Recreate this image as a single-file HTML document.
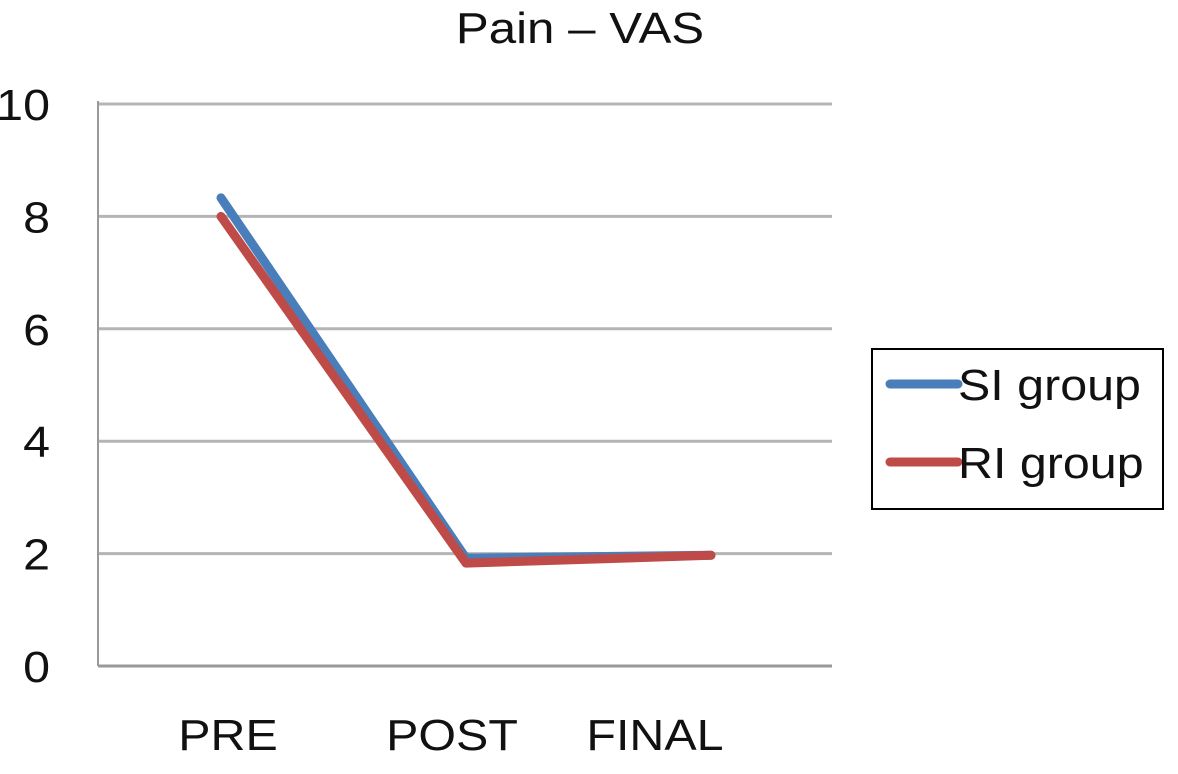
<!DOCTYPE html>
<html><head><meta charset="utf-8"><style>
html,body{margin:0;padding:0;background:#fff;}
svg{display:block;font-family:"Liberation Sans",Arial,sans-serif;}
</style></head><body>
<svg width="1178" height="774" id="chart">
<text transform="translate(580,43) scale(1.12,1)" font-size="44" text-anchor="middle" fill="#111">Pain – VAS</text>
<g id="grid"></g>
<line x1="98" y1="101" x2="98" y2="666" stroke="#999" stroke-width="2"/>
<g id="yticks"></g>
<g id="xticks"></g>
<g id="series"></g>
<g>
<rect x="872" y="349" width="291" height="160" fill="#fff" stroke="#000" stroke-width="2"/>
<line x1="890" y1="384" x2="958" y2="384" stroke="#4a7ebb" stroke-width="9" stroke-linecap="round"/>
<text transform="translate(958,400) scale(1.1,1)" font-size="44" fill="#111">SI group</text>
<line x1="890" y1="462" x2="958" y2="462" stroke="#be4b48" stroke-width="9" stroke-linecap="round"/>
<text transform="translate(958,478) scale(1.1,1)" font-size="44" fill="#111">RI group</text>
</g>
</svg>
<script>
const categories = ["PRE","POST","FINAL"];
const siValues = [8.33, 1.92, 1.97];
const riValues = [8.0, 1.83, 1.97];
const yTicks = [0,2,4,6,8,10];
const NS="http://www.w3.org/2000/svg";
const x0=98,x1=832,yBase=666,yTop=104;
const y=v=>yBase-(v/10)*(yBase-yTop);
const catX=i=>221+i*245;
const labelX=i=>[228,452,655][i];
const grid=document.getElementById('grid'),yt=document.getElementById('yticks'),xt=document.getElementById('xticks'),ser=document.getElementById('series');
yTicks.forEach(t=>{
  const l=document.createElementNS(NS,'line');
  l.setAttribute('x1',x0);l.setAttribute('x2',x1);l.setAttribute('y1',y(t));l.setAttribute('y2',y(t));
  l.setAttribute('stroke',t===0?'#999':'#b5b5b5');l.setAttribute('stroke-width',3);
  
  
  grid.appendChild(l);
  const tx=document.createElementNS(NS,'text');
  tx.setAttribute('transform','translate(50,'+(y(t)+16)+') scale(1.1,1)');
  tx.setAttribute('font-size','44');tx.setAttribute('text-anchor','end');tx.setAttribute('fill','#111');
  tx.textContent=t;
  
  
  yt.appendChild(tx);
});
categories.forEach((c,i)=>{
  const tx=document.createElementNS(NS,'text');
  tx.setAttribute('transform','translate('+labelX(i)+',750) scale(1.1,1)');
  tx.setAttribute('font-size','44');tx.setAttribute('text-anchor','middle');tx.setAttribute('fill','#111');
  tx.textContent=c;
  
  
  xt.appendChild(tx);
});
function drawLine(vals,color,name){
  const p=document.createElementNS(NS,'polyline');
  p.setAttribute('points',vals.map((v,i)=>catX(i)+','+y(v)).join(' '));
  p.setAttribute('fill','none');p.setAttribute('stroke',color);p.setAttribute('stroke-width',9);
  p.setAttribute('stroke-linecap','round');p.setAttribute('stroke-linejoin','round');
  
  
  ser.appendChild(p);
}
drawLine(siValues,'#4a7ebb','si-group-line');
drawLine(riValues,'#be4b48','ri-group-line');
</script>
</body></html>
